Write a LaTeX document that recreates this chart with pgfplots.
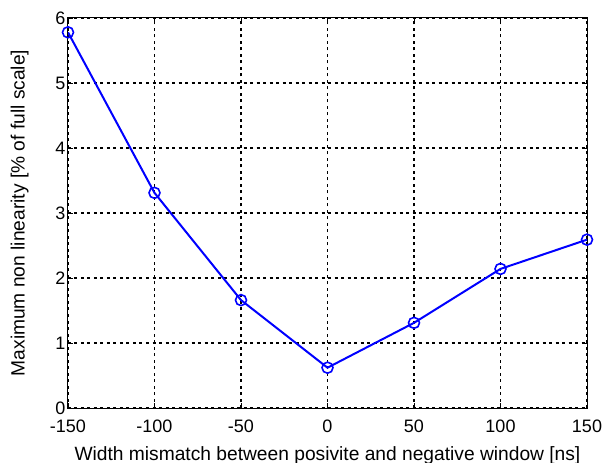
\documentclass[border=0pt]{standalone}
\usepackage{pgfplots}
\pgfplotsset{compat=1.18}
\usepackage{fontspec}
\setmainfont{Liberation Sans}
\begin{document}
\begin{tikzpicture}
\begin{axis}[
  scale only axis,
  width=519pt, height=390pt,
  xmin=-150, xmax=150, ymin=0, ymax=6,
  xtick={-150,-100,-50,0,50,100,150},
  ytick={0,1,2,3,4,5,6},
  tick align=inside,
  major tick length=5pt,
  tick style={black, line width=0.6pt},
  axis line style={black, line width=1pt},
  grid=major,
  major grid style={black, line width=1.1pt, dash pattern=on 3pt off 3.5pt},
  ticklabel style={font=\fontsize{18}{20}\selectfont},
  label style={font=\fontsize{19.2}{21}\selectfont},
  /pgf/number format/assume math mode=true,
  xticklabel style={yshift=-8pt},
  yticklabel style={xshift=1pt},
  xlabel={Width mismatch between posivite and negative window [ns]},
  ylabel={Maximum non linearity [\% of full scale]},
  xlabel style={yshift=-7pt},
  ylabel style={yshift=20pt},
  scaled ticks=false,
]
\addplot[color={rgb,255:red,0;green,0;blue,255}, line width=2pt, mark=o, mark size=5.5pt, mark options={solid, line width=1.6pt}]
coordinates {(-150,5.78) (-100,3.31) (-50,1.66) (0,0.62) (50,1.31) (100,2.14) (150,2.59)};
\end{axis}
\pgfresetboundingbox
\path[use as bounding box] (-68pt,-55pt) rectangle (537pt,408pt);
\end{tikzpicture}
\end{document}
